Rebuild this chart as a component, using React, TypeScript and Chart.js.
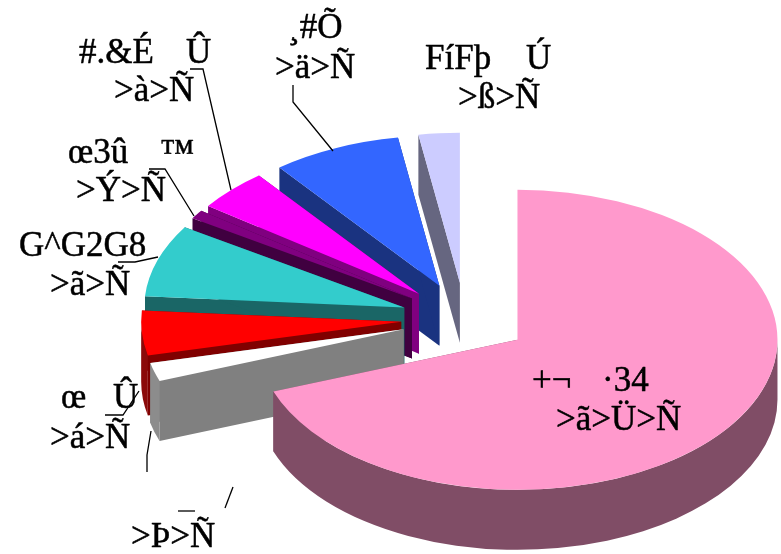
import React, { useEffect, useRef } from "react";
import { Chart, registerables } from "chart.js";

Chart.register(...registerables);

const sliceNames = ["+¬   ·34", "¯", "œ   Û", "G^G2G8", "œ3û   ™", "#.&É   Û", "¸#Õ", "FíFþ   Ú"];
const sliceValues = [69.4, 2.0, 4.8, 7.8, 0.95, 4.5, 8.0, 2.55];
const topColors = ["#FF99CC", "#FFFFFF", "#FF0000", "#33CCCC", "#800080", "#FF00FF", "#3366FF", "#CCCCFF"];
const cutColors = ["#804D66", "#808080", "#800000", "#1A6666", "#400040", "#800080", "#1A3380", "#666680"];
const wallColors = ["#804D66", "#8C8C8C", "#8B0A0A", "#1A6666", "#400040", "#800080", "#1A3380", "#666680"];

const FONT = '35px "Liberation Serif"';
const RADIUS = 260;
const SQUASH = 0.577;
const EXPLODE_X = 64;
const EXPLODE_Y = 63;
const DEPTH = 60;

const labelTexts: [string, number, number][] = [
  ["+¬", 532, 391],
  ["·34", 602, 391],
  [">ã>Ü>Ñ", 556, 430],
  [">Þ>Ñ", 131, 547],
  ["œ", 61, 408],
  ["Û", 113, 408],
  [">á>Ñ", 50, 448],
  ["G^G2G8", 19, 256],
  [">ã>Ñ", 50, 295],
  ["œ3û", 68, 163],
  ["™", 160, 163],
  [">Ý>Ñ", 76, 201],
  ["#.&É", 79, 63],
  ["Û", 186, 63],
  [">à>Ñ", 114, 101],
  ["¸#Õ", 288, 38],
  [">ä>Ñ", 275, 78],
  ["FíFþ", 425, 69],
  ["Ú", 526, 69],
  [">ß>Ñ", 458, 108],
];

const leaderLines: [number, number][][] = [
  [[293, 85], [293, 102], [333, 151]],
  [[190, 69], [203, 69], [231, 190]],
  [[149, 169], [165, 169], [194, 216]],
  [[118, 262], [135, 262], [158, 257]],
  [[105, 415], [123, 415], [139, 391]],
  [[151, 431], [147, 455], [147, 472]],
  [[178, 511], [195, 511]],
  [[225, 508], [233, 487]],
];

const pie3d = {
  id: "pie3d",
  beforeDatasetDraw(chart: any) {
    const ctx = chart.ctx;
    const arcs = chart.getDatasetMeta(0).data;
    const depth = DEPTH / SQUASH;
    for (let i = arcs.length - 1; i >= 0; i--) {
      const a = arcs[i];
      const mid = (a.startAngle + a.endAngle) / 2;
      ctx.save();
      ctx.translate(a.x, a.y);
      ctx.scale(1, SQUASH);
      ctx.translate(-a.x, -a.y);
      ctx.translate(EXPLODE_X * Math.cos(mid), EXPLODE_Y * Math.sin(mid));
      const r = a.outerRadius;
      ctx.fillStyle = cutColors[i];
      for (const ang of [a.startAngle, a.endAngle]) {
        const ex = a.x + r * Math.cos(ang);
        const ey = a.y + r * Math.sin(ang);
        ctx.beginPath();
        ctx.moveTo(a.x, a.y);
        ctx.lineTo(ex, ey);
        ctx.lineTo(ex, ey + depth);
        ctx.lineTo(a.x, a.y + depth);
        ctx.closePath();
        ctx.fill();
      }
      const from = Math.max(a.startAngle, 0);
      const to = Math.min(a.endAngle, Math.PI);
      if (to > from) {
        ctx.fillStyle = wallColors[i];
        ctx.beginPath();
        ctx.arc(a.x, a.y, r, from, to);
        ctx.arc(a.x, a.y + depth, r, to, from, true);
        ctx.closePath();
        ctx.fill();
      }
      a.draw(ctx);
      ctx.restore();
    }
    return false;
  },
  afterDraw(chart: any) {
    const ctx = chart.ctx;
    ctx.save();
    ctx.strokeStyle = "#000";
    ctx.lineWidth = 1.3;
    for (const line of leaderLines) {
      ctx.beginPath();
      line.forEach(([x, y], i) => (i ? ctx.lineTo(x, y) : ctx.moveTo(x, y)));
      ctx.stroke();
    }
    ctx.fillStyle = "#000";
    ctx.font = FONT;
    ctx.textAlign = "left";
    ctx.textBaseline = "alphabetic";
    ctx.lineWidth = 0.5;
    ctx.lineJoin = "round";
    for (const [t, x, y] of labelTexts) {
      ctx.fillText(t, x, y);
      ctx.strokeText(t, x, y);
    }
    ctx.restore();
  },
};

export default function App() {
  const ref = useRef<HTMLCanvasElement>(null);
  useEffect(() => {
    const chart = new Chart(ref.current as HTMLCanvasElement, {
      type: "pie",
      data: {
        labels: sliceNames,
        datasets: [{ data: sliceValues, backgroundColor: topColors, borderWidth: 0, offset: 0 }],
      },
      options: {
        responsive: false,
        animation: false,
        events: [],
        radius: RADIUS,
        layout: { padding: { left: 149, top: 84, right: 0, bottom: 0 } },
        plugins: { legend: { display: false }, tooltip: { enabled: false } },
      } as any,
      plugins: [pie3d as any],
    });
    return () => chart.destroy();
  }, []);
  return (
    <div style={{ position: "absolute", left: 0, top: 0, width: 781, height: 554, background: "#fff" }}>
      <canvas ref={ref} width={781} height={554} style={{ display: "block" }} />
    </div>
  );
}
